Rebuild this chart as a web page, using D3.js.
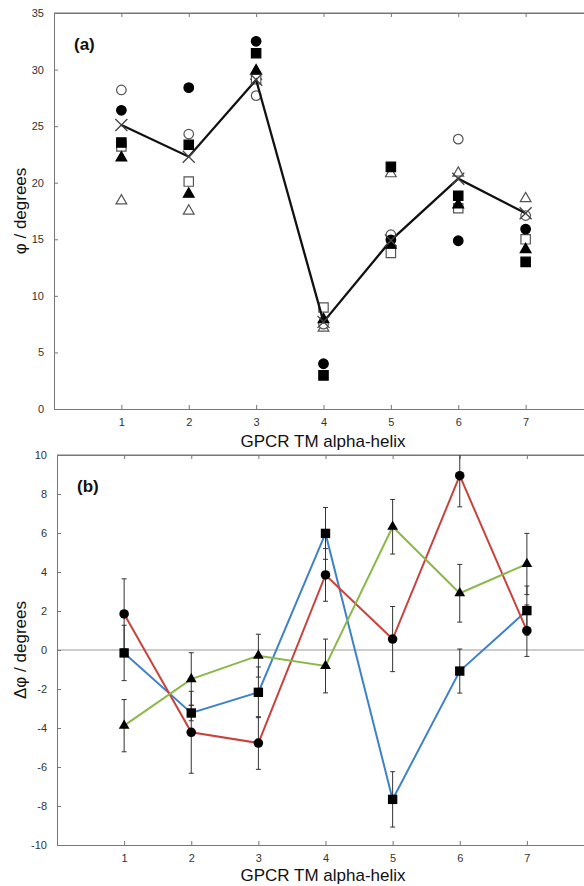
<!DOCTYPE html>
<html>
<head>
<meta charset="utf-8">
<script src="https://cdn.jsdelivr.net/npm/d3@7"></script>
<style>
  body { margin: 0; background: #fff; }
  svg { display: block; font-family: "Liberation Sans", Arial, sans-serif; }
  .axis path, .axis line { stroke: #777; }
  .axis text { fill: #333; font-size: 11px; }
</style>
</head>
<body>
<div id="chart"></div>
<script>
// helix numbers
var helices = [1, 2, 3, 4, 5, 6, 7];

// panel (a) - phi in degrees, one array per marker
var openCircle     = [28.2, 24.3, 27.7, 7.5, 15.4, 23.85, 17.1];
var filledCircle   = [26.4, 28.4, 32.5, 4.0, 14.95, 14.87, 15.9];
var filledSquare   = [23.55, 23.35, 31.45, 2.97, 21.4, 18.85, 13.0];
var openSquare     = [23.2, 20.1, 29.15, 8.97, 13.8, 17.75, 15.0];
var filledTriangle = [22.2, 19.0, 29.9, 7.9, 14.5, 18.05, 14.1];
var openTriangle   = [18.4, 17.5, 29.4, 7.15, 20.8, 20.85, 18.6];
var meanPhi        = [25.1, 22.3, 29.1, 7.7, 14.9, 20.35, 17.3];

// panel (b) - delta phi with error bars
var squareDelta   = [-0.15, -3.23, -2.17, 5.98, -7.66, -1.08, 2.02];
var squareErr     = [1.42, 0.4, 1.3, 1.33, 1.42, 1.13, 1.26];
var circleDelta   = [1.85, -4.22, -4.77, 3.85, 0.56, 8.94, 0.99];
var circleErr     = [1.8, 2.1, 1.35, 1.35, 1.67, 1.6, 1.32];
var triangleDelta = [-3.88, -1.49, -0.29, -0.82, 6.32, 2.91, 4.41];
var triangleErr   = [1.34, 1.35, 1.1, 1.38, 1.4, 1.48, 1.57];

var width = 584, height = 886;

var svg = d3.select("#chart").append("svg")
    .attr("width", width)
    .attr("height", height);

// symbol generators
var circleSym = d3.symbol().type(d3.symbolCircle).size(72);
var squareSym = d3.symbol().type(d3.symbolSquare).size(88);
var triSym = d3.symbol().type(d3.symbolTriangle).size(50);
var xSym = d3.symbol().type(d3.symbolX).size(96);

function drawFrame(x, y, yTicks, yTitle, panelLabel, titleY) {
    var x0 = x.range()[0], x1 = x.range()[1];
    var y0 = y.range()[0], y1 = y.range()[1];

    // top border
    svg.append("line")
        .attr("x1", x0).attr("x2", x1)
        .attr("y1", y1).attr("y2", y1)
        .attr("stroke", "#777");

    svg.append("g")
        .attr("class", "axis")
        .attr("transform", `translate(0, ${y1})`)
        .call(d3.axisTop(x).tickValues(helices).tickSize(-4).tickFormat("").tickSizeOuter(0));

    svg.append("g")
        .attr("class", "axis")
        .attr("transform", `translate(0, ${y0})`)
        .call(d3.axisBottom(x).tickValues(helices).tickSize(-4).tickPadding(9).tickSizeOuter(0));

    // plain hyphen for negatives, like the original
    svg.append("g")
        .attr("class", "axis")
        .attr("transform", `translate(${x0}, 0)`)
        .call(d3.axisLeft(y).tickValues(yTicks).tickFormat(d => String(d))
            .tickSize(-4).tickPadding(10).tickSizeOuter(0));

    // axis titles
    svg.append("text")
        .attr("x", 323)
        .attr("y", titleY)
        .attr("text-anchor", "middle")
        .attr("font-size", "17px")
        .attr("fill", "#111")
        .text("GPCR TM alpha-helix");

    svg.append("text")
        .attr("transform", `translate(26, ${(y0 + y1) / 2}) rotate(-90)`)
        .attr("text-anchor", "middle")
        .attr("font-size", "17px")
        .attr("fill", "#111")
        .text(yTitle);

    svg.append("text")
        .attr("x", x0 + 20)
        .attr("y", y1 + 37)
        .attr("font-size", "17px")
        .attr("font-weight", "bold")
        .attr("fill", "#111")
        .text(panelLabel);
}

// ---------- panel (a) ----------
var xA = d3.scaleLinear().domain([0, 8]).range([54, 593]);
var yA = d3.scaleLinear().domain([0, 35]).range([409, 13]);

drawFrame(xA, yA, d3.range(0, 36, 5), "φ / degrees", "(a)", 447);

var markersA = [
    { values: openTriangle, sym: triSym, fill: "#fff", stroke: "#555" },
    { values: openSquare, sym: squareSym, fill: "#fff", stroke: "#555" },
    { values: openCircle, sym: circleSym, fill: "#fff", stroke: "#555" },
    { values: filledTriangle, sym: triSym, fill: "#000", stroke: "#000" },
    { values: filledSquare, sym: squareSym, fill: "#000", stroke: "#000" },
    { values: filledCircle, sym: circleSym, fill: "#000", stroke: "#000" }
];

markersA.forEach(function (m) {
    svg.append("g").selectAll("path")
        .data(m.values)
        .enter()
        .append("path")
        .attr("d", m.sym)
        .attr("transform", (d, i) => `translate(${xA(helices[i])}, ${yA(d)})`)
        .attr("fill", m.fill)
        .attr("stroke", m.stroke)
        .attr("stroke-width", 1.2);
});

// mean line with X markers
svg.append("path")
    .datum(meanPhi)
    .attr("fill", "none")
    .attr("stroke", "#111")
    .attr("stroke-width", 2.3)
    .attr("d", d3.line().x((d, i) => xA(helices[i])).y(d => yA(d)));

svg.append("g").selectAll("path")
    .data(meanPhi)
    .enter()
    .append("path")
    .attr("d", xSym)
    .attr("transform", (d, i) => `translate(${xA(helices[i])}, ${yA(d)})`)
    .attr("fill", "none")
    .attr("stroke", "#444")
    .attr("stroke-width", 1.3);

// ---------- panel (b) ----------
var xB = d3.scaleLinear().domain([0, 8]).range([57, 594]);
var yB = d3.scaleLinear().domain([-10, 10]).range([845, 455]);

svg.append("defs").append("clipPath")
    .attr("id", "clipB")
    .append("rect")
    .attr("x", 57).attr("y", 455)
    .attr("width", 537).attr("height", 390);

// zero line
svg.append("line")
    .attr("x1", xB.range()[0]).attr("x2", xB.range()[1])
    .attr("y1", yB(0)).attr("y2", yB(0))
    .attr("stroke", "#999");

drawFrame(xB, yB, d3.range(-10, 11, 2), "Δφ / degrees", "(b)", 881);

var seriesB = [
    { values: squareDelta, err: squareErr, sym: squareSym, color: "#3f82c8" },
    { values: circleDelta, err: circleErr, sym: circleSym, color: "#c8433c" },
    { values: triangleDelta, err: triangleErr, sym: triSym, color: "#8cb84a" }
];

var plotB = svg.append("g").attr("clip-path", "url(#clipB)");

seriesB.forEach(function (s) {
    plotB.append("path")
        .datum(s.values)
        .attr("fill", "none")
        .attr("stroke", s.color)
        .attr("stroke-width", 2)
        .attr("d", d3.line().x((d, i) => xB(helices[i])).y(d => yB(d)));
});

seriesB.forEach(function (s) {
    var bars = plotB.append("g").selectAll("g")
        .data(s.values)
        .enter()
        .append("g")
        .attr("stroke", "#333")
        .attr("stroke-width", 1);

    bars.append("line")
        .attr("x1", (d, i) => xB(helices[i]))
        .attr("x2", (d, i) => xB(helices[i]))
        .attr("y1", (d, i) => yB(d + s.err[i]))
        .attr("y2", (d, i) => yB(d - s.err[i]));

    [1, -1].forEach(function (sign) {
        bars.append("line")
            .attr("x1", (d, i) => xB(helices[i]) - 2.5)
            .attr("x2", (d, i) => xB(helices[i]) + 2.5)
            .attr("y1", (d, i) => yB(d + sign * s.err[i]))
            .attr("y2", (d, i) => yB(d + sign * s.err[i]));
    });
});

seriesB.forEach(function (s) {
    plotB.append("g").selectAll("path")
        .data(s.values)
        .enter()
        .append("path")
        .attr("d", s.sym)
        .attr("transform", (d, i) => `translate(${xB(helices[i])}, ${yB(d)})`)
        .attr("fill", "#000");
});
</script>
</body>
</html>
